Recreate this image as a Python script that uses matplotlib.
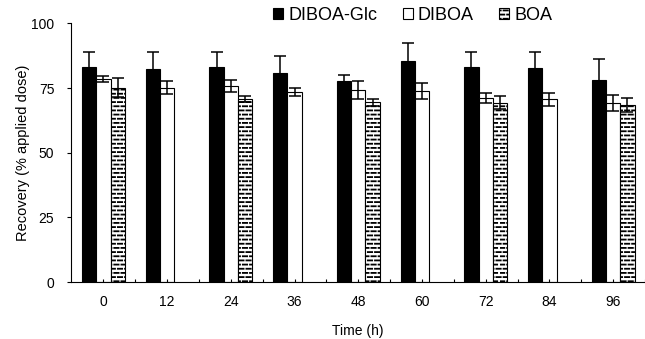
import numpy as np
import matplotlib
matplotlib.use("Agg")
import matplotlib.pyplot as plt
import matplotlib.hatch as mhatch
from matplotlib.path import Path

times = ["0", "12", "24", "36", "48", "60", "72", "84", "96"]

glc = [83.0, 82.3, 83.0, 81.0, 77.8, 85.4, 83.2, 82.7, 78.2]
glc_err = [6.0, 6.7, 6.0, 6.4, 2.1, 7.0, 5.8, 6.3, 8.1]
diboa = [78.5, 75.2, 75.8, 73.6, 74.2, 73.9, 71.2, 70.6, 69.3]
diboa_err = [1.0, 2.5, 2.4, 1.5, 3.6, 3.1, 2.0, 2.6, 3.1]
boa = [75.2, None, 70.7, None, 69.5, None, 69.3, None, 68.5]
boa_err = [3.6, None, 1.2, None, 1.4, None, 2.5, None, 2.7]


# short staggered dashes, like the BOA fill in the original
class BrickDashes(mhatch.HatchPatternBase):
    def __init__(self, hatch, density):
        k = hatch.count('-')
        self.rows = k * density
        self.cols = max(1, k * density * 7 // 12)
        self.num_vertices = 2 * self.rows * (self.cols + 1) if k else 0

    def set_vertices_and_codes(self, vertices, codes):
        dash = 0.6
        i = 0
        for r in range(self.rows):
            y = (r + 0.5) / self.rows
            off = 0.5 * (r % 2)
            for j in range(-1, self.cols):
                x0 = np.clip((j + off) / self.cols, 0, 1)
                x1 = np.clip((j + off + dash) / self.cols, 0, 1)
                vertices[i] = (x0, y)
                vertices[i + 1] = (x1, y)
                codes[i] = Path.MOVETO
                codes[i + 1] = Path.LINETO
                i += 2


mhatch._hatch_types = [BrickDashes]

plt.rcParams['font.family'] = ['Liberation Sans', 'DejaVu Sans']
plt.rcParams['hatch.linewidth'] = 1.3

fig = plt.figure(figsize=(6.45, 3.39), dpi=100)
ax = fig.add_axes([0.110, 0.168, 0.890, 0.763])

x = np.arange(len(times))
w = 0.225
ekw = dict(capsize=4, elinewidth=1.1, capthick=1.1, ecolor='black')

ax.bar(x - w, glc, w, yerr=glc_err, color='black', edgecolor='black',
       linewidth=0.8, label='DIBOA-Glc', error_kw=ekw)
ax.bar(x, diboa, w, yerr=diboa_err, color='white', edgecolor='black',
       linewidth=0.8, label='DIBOA', error_kw=ekw)

bx = [xi + w for xi, v in zip(x, boa) if v is not None]
bv = [v for v in boa if v is not None]
be = [e for e in boa_err if e is not None]
ax.bar(bx, bv, w, yerr=be, color='white', edgecolor='black', hatch='----',
       linewidth=0.8, label='BOA', error_kw=ekw)

ax.set_xlim(-0.51, 8.39)
ax.set_ylim(0, 100)
ax.set_yticks([0, 25, 50, 75, 100])
ax.set_xticks(x)
ax.set_xticklabels(times)
ax.set_xticks(x + 0.5, minor=True)

for s in ['top', 'right']:
    ax.spines[s].set_visible(False)
ax.spines['left'].set_linewidth(0.8)
ax.spines['bottom'].set_linewidth(0.8)

ax.tick_params(axis='x', which='both', direction='in', length=2.5, width=0.8,
               pad=9, labelsize=10)
ax.tick_params(axis='y', direction='out', length=3, width=0.8, pad=9,
               labelsize=10)

ax.set_ylabel('Recovery (% applied dose)', fontsize=10.5, labelpad=1)
ax.set_xlabel('Time (h)', fontsize=10, labelpad=11)

fig.legend(loc='center', bbox_to_anchor=(0.64, 0.955), ncol=3, frameon=False,
           fontsize=13, handlelength=0.55, handleheight=0.55,
           handletextpad=0.3, columnspacing=1.4)

fig.savefig('out.png', dpi=100)
